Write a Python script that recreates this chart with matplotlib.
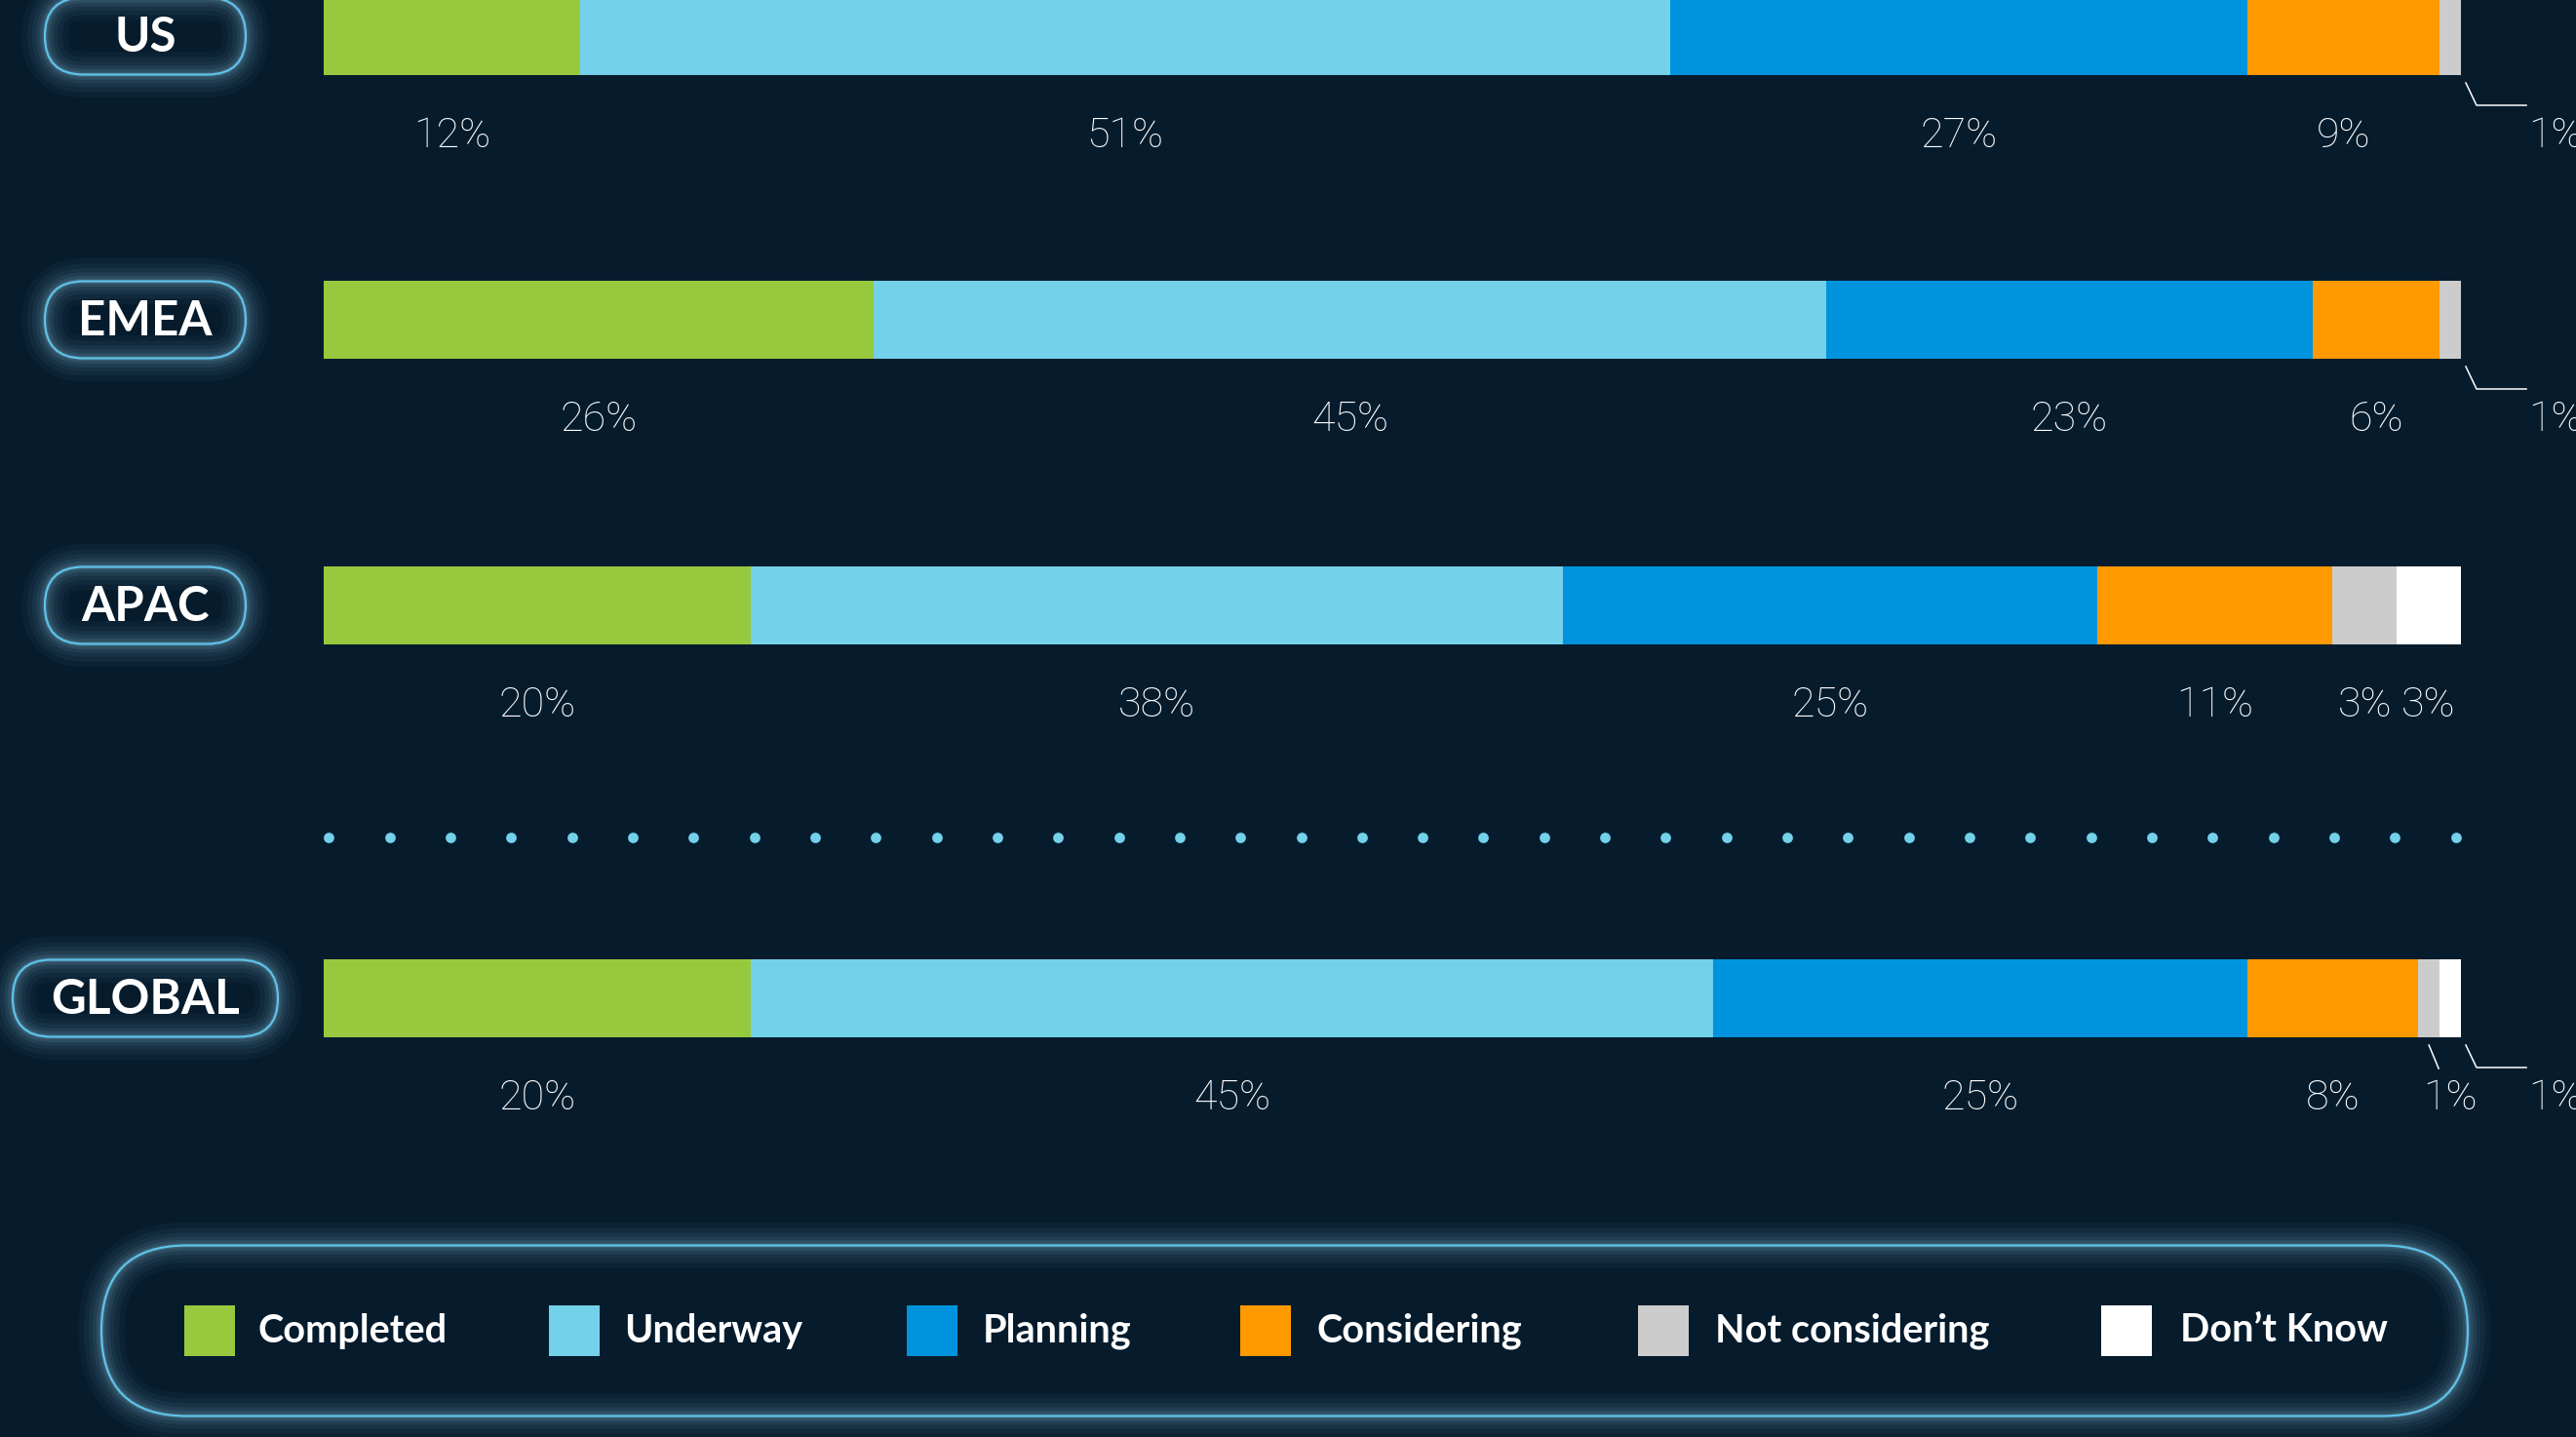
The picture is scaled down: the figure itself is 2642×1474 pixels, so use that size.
import matplotlib.pyplot as plt
import numpy as np
from matplotlib.colors import to_rgb
from matplotlib.patches import FancyBboxPatch, Rectangle

# data
regions = ["US", "EMEA", "APAC", "GLOBAL"]
categories = ["Completed", "Underway", "Planning", "Considering", "Not considering", "Don\u2019t Know"]
completed = [12, 26, 20, 20]
underway = [51, 45, 38, 45]
planning = [27, 23, 25, 25]
considering = [9, 6, 11, 8]
not_considering = [1, 1, 3, 1]
dont_know = [0, 0, 3, 1]

colors = ["#96c93d", "#73d1ea", "#0093dd", "#ff9900", "#cccccc", "#ffffff"]
BG = "#061c2d"
EDGE = "#5fc3ea"
GLOW = to_rgb("#9fdcf5")

# layout (pixels)
W, H = 2642, 1474
BAR_L, BAR_R = 332, 2524
row_y = [37, 328, 621, 1024]
bar_h = 80
pill_w = [206, 206, 206, 272]
pill_cx = 149
legend_sq_x = [189, 563, 930, 1272, 1680, 2155]
legend_txt_x = [265, 640, 1008, 1351, 1759, 2236]
legend_y = 1365

fig = plt.figure(figsize=(W / 100, H / 100), dpi=100, facecolor=BG)
bg = fig.add_axes([0, 0, 1, 1])
bg.set_xlim(0, W)
bg.set_ylim(H, 0)
bg.axis("off")

ax = fig.add_axes([BAR_L / W, 0, (BAR_R - BAR_L) / W, 1])
ax.set_xlim(0, 100)
ax.set_ylim(H, 0)
ax.axis("off")
px = 100 / (BAR_R - BAR_L)  # pixels -> percent units


def glow_pill(a, cx, cy, w, h):
    r = h / 2
    xy = (cx - w / 2, cy - h / 2)
    style = "round,pad=0,rounding_size=%g" % r
    a.add_patch(FancyBboxPatch(xy, w, h, boxstyle=style, facecolor=BG, edgecolor="none", zorder=1))
    # near-invisible face keeps the stroke from being clipped at the canvas edge
    for lw, al in [(34, 0.035), (26, 0.045), (19, 0.055), (13, 0.07), (8, 0.09), (4, 0.12)]:
        a.add_patch(FancyBboxPatch(xy, w, h, boxstyle=style, facecolor=GLOW + (0.0005,),
                                   edgecolor=GLOW + (al,), linewidth=lw, zorder=2))
    a.add_patch(FancyBboxPatch(xy, w, h, boxstyle=style, facecolor=GLOW + (0.0005,),
                               edgecolor=EDGE, linewidth=1.6, zorder=3))


# bars
data = np.array([completed, underway, planning, considering, not_considering, dont_know], dtype=float).T
shares = data / data.sum(axis=1, keepdims=True) * 100
lefts = np.cumsum(shares, axis=1) - shares
for j, cat in enumerate(categories):
    ax.barh(row_y, shares[:, j], left=lefts[:, j], height=bar_h, color=colors[j], linewidth=0, zorder=2)

lab_kw = dict(color="white", fontsize=31, family="Roboto", fontweight="light", zorder=5)
for i, reg in enumerate(regions):
    nz = [j for j in range(len(categories)) if data[i, j] > 0]
    ly = row_y[i] + 102
    bottom = row_y[i] + bar_h / 2
    for j in nz:
        v = int(data[i, j])
        c = lefts[i, j] + shares[i, j] / 2
        if v >= 2:
            ax.text(c, ly, "%d%%" % v, ha="center", va="center", **lab_kw)
        elif j == nz[-1]:
            x0 = lefts[i, j] + shares[i, j] + 5 * px
            y0 = bottom + 8
            xs = [x0, x0 + 11 * px, x0 + 62 * px]
            ys = [y0, y0 + 23, y0 + 23]
            ax.plot(xs, ys, color="white", lw=1.1, clip_on=False, zorder=5)
            ax.text(xs[-1] + 2 * px, ly, "%d%%" % v, ha="left", va="center", **lab_kw)
        else:
            y0 = bottom + 8
            ax.plot([c, c + 10 * px], [y0, y0 + 24], color="white", lw=1.1, clip_on=False, zorder=5)
            ax.text(c + 22 * px, ly, "%d%%" % v, ha="center", va="center", **lab_kw)

    glow_pill(bg, pill_cx, row_y[i], pill_w[i], bar_h - 1)
    bg.text(pill_cx, row_y[i] + 1, reg, ha="center", va="center", color="white",
            fontsize=35.5, family="Lato", fontweight="bold", zorder=5)

# dotted separator
ax.scatter(np.linspace(0.25, 99.75, 36), [859] * 36, s=60, color="#73d1ea", linewidths=0, zorder=3)

# legend
glow_pill(bg, (104 + 2531) / 2, legend_y, 2531 - 104, 175)
for j, cat in enumerate(categories):
    bg.add_patch(Rectangle((legend_sq_x[j], legend_y - 26), 52, 52, facecolor=colors[j],
                           edgecolor="none", zorder=5))
    bg.text(legend_txt_x[j], legend_y, cat, ha="left", va="center", color="white",
            fontsize=28.5, family="Lato", fontweight="bold", zorder=5)

fig.savefig("out.png", dpi=100, facecolor=BG)
